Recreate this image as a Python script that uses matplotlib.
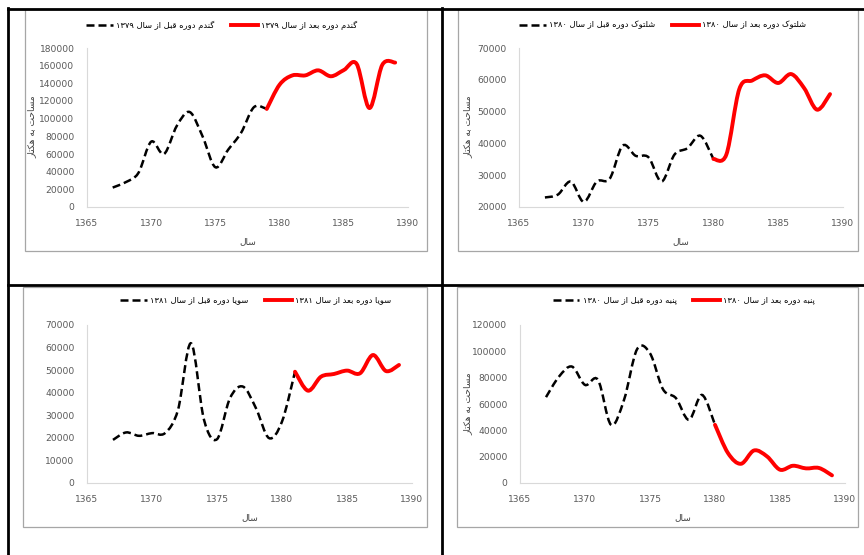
import re
import matplotlib
matplotlib.use("Agg")
import matplotlib.pyplot as plt
from matplotlib.path import Path
from matplotlib.patches import PathPatch, Rectangle
from matplotlib.lines import Line2D

plt.rcParams['font.family'] = ['DejaVu Sans']

# ---------------- data ----------------
wheat_before_years = list(range(1367, 1380))
wheat_before = [22000, 28000, 38500, 74000, 60000, 92000, 107500, 80000, 45000, 65000, 84000, 113000, 111000]
wheat_after_years = list(range(1379, 1390))
wheat_after = [111000, 138500, 149000, 149000, 154700, 148000, 155000, 162000, 112000, 161000, 163500]

rice_before_years = list(range(1367, 1381))
rice_before = [23000, 23900, 28000, 21600, 28000, 28900, 39300, 36100, 35600, 28000, 36500, 38500, 42400, 35100]
rice_after_years = list(range(1380, 1390))
rice_after = [35100, 36500, 57100, 59800, 61400, 59000, 61800, 57400, 50600, 55500]

soy_before_years = list(range(1367, 1382))
soy_before = [19100, 22400, 20900, 22100, 22100, 32400, 61900, 28000, 19400, 37600, 42700, 33100, 19900, 27200, 49300]
soy_after_years = list(range(1381, 1390))
soy_after = [49300, 40900, 47100, 48300, 49800, 48600, 56700, 49600, 52300]

cotton_before_years = list(range(1367, 1381))
cotton_before = [65200, 80800, 88400, 74500, 78300, 44200, 63100, 101500, 98500, 71200, 64400, 48000, 66900, 44200]
cotton_after_years = list(range(1380, 1390))
cotton_after = [44200, 22700, 14600, 24700, 20200, 10100, 13100, 11100, 11400, 5800]

legend_before = ["گندم دوره قبل از سال ۱۳۷۹", "شلتوک دوره قبل از سال ۱۳۸۰",
                 "سویا دوره قبل از سال ۱۳۸۱", "پنبه دوره قبل از سال ۱۳۸۰"]
legend_after = ["گندم دوره بعد از سال ۱۳۷۹", "شلتوک دوره بعد از سال ۱۳۸۰",
                "سویا دوره بعد از سال ۱۳۸۱", "پنبه دوره بعد از سال ۱۳۸۰"]
ylabel_text = "مساحت به هکتار"
xlabel_text = "سال"
x_ticks = [1365, 1370, 1375, 1380, 1385, 1390]

# ---------------- Persian shaping (presentation forms) ----------------
FORMS = {  # iso, fin, init, med
    'ا': (0xFE8D, 0xFE8E, None, None),
    'ب': (0xFE8F, 0xFE90, 0xFE91, 0xFE92),
    'پ': (0xFB56, 0xFB57, 0xFB58, 0xFB59),
    'ت': (0xFE95, 0xFE96, 0xFE97, 0xFE98),
    'ح': (0xFEA1, 0xFEA2, 0xFEA3, 0xFEA4),
    'د': (0xFEA9, 0xFEAA, None, None),
    'ر': (0xFEAD, 0xFEAE, None, None),
    'ز': (0xFEAF, 0xFEB0, None, None),
    'س': (0xFEB1, 0xFEB2, 0xFEB3, 0xFEB4),
    'ش': (0xFEB5, 0xFEB6, 0xFEB7, 0xFEB8),
    'ع': (0xFEC9, 0xFECA, 0xFECB, 0xFECC),
    'ق': (0xFED5, 0xFED6, 0xFED7, 0xFED8),
    'ک': (0xFB8E, 0xFB8F, 0xFB90, 0xFB91),
    'گ': (0xFB92, 0xFB93, 0xFB94, 0xFB95),
    'ل': (0xFEDD, 0xFEDE, 0xFEDF, 0xFEE0),
    'م': (0xFEE1, 0xFEE2, 0xFEE3, 0xFEE4),
    'ن': (0xFEE5, 0xFEE6, 0xFEE7, 0xFEE8),
    'ه': (0xFEE9, 0xFEEA, 0xFEEB, 0xFEEC),
    'و': (0xFEED, 0xFEEE, None, None),
    'ی': (0xFBFC, 0xFBFD, 0xFBFE, 0xFBFF),
}


def shape(s):
    out = []
    for i, c in enumerate(s):
        if c not in FORMS:
            out.append(c)
            continue
        prev = s[i - 1] if i > 0 else ''
        nxt = s[i + 1] if i + 1 < len(s) else ''
        jp = prev in FORMS and FORMS[prev][2] is not None
        jn = nxt in FORMS and FORMS[c][2] is not None
        f = FORMS[c]
        if jp and jn:
            ch = f[3]
        elif jp:
            ch = f[1]
        elif jn:
            ch = f[2]
        else:
            ch = f[0]
        out.append(chr(ch))
    rev = ''.join(out)[::-1]
    rev = re.sub(r'[0-9\u06F0-\u06F9]+', lambda m: m.group(0)[::-1], rev)
    return rev


# ---------------- smooth curve (Excel-like) ----------------
def smooth_path(xs, ys):
    pts = list(zip(xs, ys))
    verts = [pts[0]]
    codes = [Path.MOVETO]
    n = len(pts)
    for i in range(n - 1):
        p0 = pts[i - 1] if i > 0 else pts[i]
        p1 = pts[i]
        p2 = pts[i + 1]
        p3 = pts[i + 2] if i + 2 < n else pts[i + 1]
        c1 = (p1[0] + (p2[0] - p0[0]) / 6.0, p1[1] + (p2[1] - p0[1]) / 6.0)
        c2 = (p2[0] - (p3[0] - p1[0]) / 6.0, p2[1] - (p3[1] - p1[1]) / 6.0)
        verts += [c1, c2, p2]
        codes += [Path.CURVE4] * 3
    return Path(verts, codes)


W, H = 864, 555
fig = plt.figure(figsize=(W / 100, H / 100), dpi=100)


def fx(px):
    return px / W


def fy(py):
    return 1 - py / H


# panel frames (gray)
frames = [(25, 9, 427, 251), (458, 9, 858, 251), (23, 287, 427, 527), (457, 287, 858, 527)]
for (l, t, r, b) in frames:
    fig.add_artist(Rectangle((fx(l), fy(b)), fx(r) - fx(l), fy(t) - fy(b), transform=fig.transFigure,
                             fill=False, edgecolor='#a6a6a6', lw=0.9))

# black table lines
black_lines = [((8, 8), (8, 555)), ((8, 864), (8.5, 8.5)), ((442, 442), (8, 555)), ((8, 864), (285, 285))]
for xs_, ys_ in black_lines:
    fig.add_artist(Line2D([fx(v) for v in xs_], [fy(v) for v in ys_], transform=fig.transFigure,
                          color='black', lw=2.0))

panels = [
    dict(box=(87, 48, 408, 207), ylim=(0, 180000), yticks=list(range(0, 180001, 20000)),
         b=(wheat_before_years, wheat_before), a=(wheat_after_years, wheat_after),
         leg=(222, 25), ylab=(32, 127)),
    dict(box=(519, 48, 843, 207), ylim=(20000, 70000), yticks=list(range(20000, 70001, 10000)),
         b=(rice_before_years, rice_before), a=(rice_after_years, rice_after),
         leg=(663, 25), ylab=(468, 127)),
    dict(box=(87, 325, 412, 483), ylim=(0, 70000), yticks=list(range(0, 70001, 10000)),
         b=(soy_before_years, soy_before), a=(soy_after_years, soy_after),
         leg=(256, 300), ylab=None),
    dict(box=(520, 325, 845, 483), ylim=(0, 120000), yticks=list(range(0, 120001, 20000)),
         b=(cotton_before_years, cotton_before), a=(cotton_after_years, cotton_after),
         leg=(684, 300), ylab=(468, 404)),
]

tick_color = '#595959'
for k, p in enumerate(panels):
    l, t, r, b = p['box']
    ax = fig.add_axes([fx(l), fy(b), fx(r) - fx(l), fy(t) - fy(b)])
    ax.set_xlim(1365, 1390)
    ax.set_ylim(*p['ylim'])
    ax.set_xticks(x_ticks)
    ax.set_yticks(p['yticks'])
    ax.tick_params(length=0, labelsize=6.6, colors=tick_color, pad=9)
    for s in ['top', 'right']:
        ax.spines[s].set_visible(False)
    for s in ['left', 'bottom']:
        ax.spines[s].set_color('#d9d9d9')
        ax.spines[s].set_linewidth(0.8)
    ax.patch.set_alpha(0)

    bp = smooth_path(*p['b'])
    ap = smooth_path(*p['a'])
    ax.add_patch(PathPatch(bp, fill=False, edgecolor='black', lw=1.8, linestyle=(0, (3.2, 1.6)),
                           capstyle='butt', zorder=3))
    ax.add_patch(PathPatch(ap, fill=False, edgecolor='#ff0000', lw=2.8, capstyle='round',
                           joinstyle='round', zorder=3))

    if p['ylab'] is not None:
        fig.text(fx(p['ylab'][0]), fy(p['ylab'][1]), shape(ylabel_text), rotation=90,
                 ha='center', va='center', fontsize=6.5, color='#404040')
    ax.set_xlabel(shape(xlabel_text), fontsize=6.5, color='#404040', labelpad=6)

    hb = Line2D([], [], color='black', lw=1.8, linestyle=(0, (3.2, 1.6)))
    ha = Line2D([], [], color='#ff0000', lw=2.8)
    ax.legend([hb, ha], [shape(legend_before[k]), shape(legend_after[k])], ncol=2, frameon=False,
              loc='center', bbox_to_anchor=(fx(p['leg'][0]), fy(p['leg'][1])),
              bbox_transform=fig.transFigure,
              fontsize=6, handlelength=3.2, handletextpad=0.4, columnspacing=2.0, borderpad=0)

fig.savefig('out.png', dpi=100)
